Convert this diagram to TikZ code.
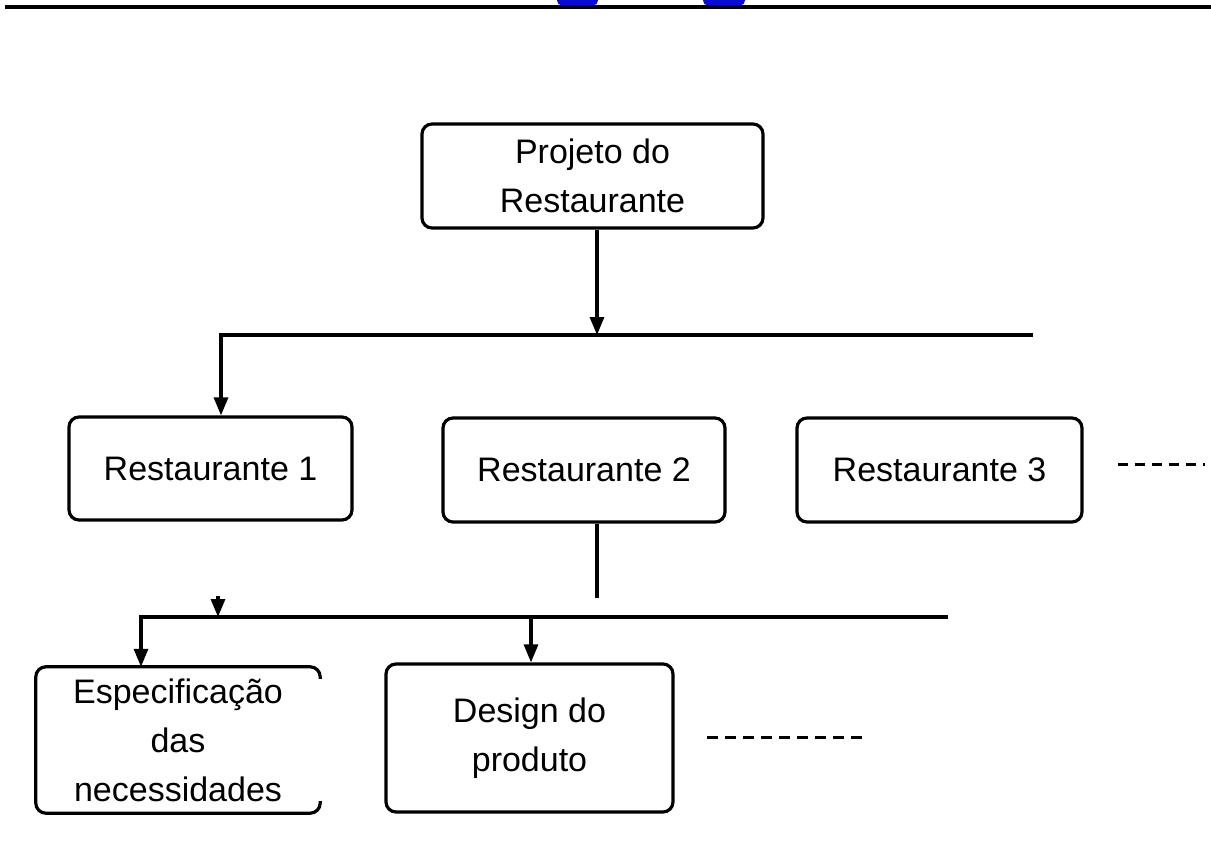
\documentclass[tikz,border=0pt]{standalone}
\usepackage{fontspec}
\setmainfont{Liberation Sans}
\usetikzlibrary{arrows.meta}
\definecolor{topblue}{RGB}{10,10,210}
\begin{document}
\begin{tikzpicture}[x=1pt,y=-1pt,
  boxtext/.style={align=center, inner sep=0pt, font=\fontsize{34}{49}\selectfont},
  box/.style={boxtext, draw, line width=3.2pt, rounded corners=10pt},
  conn/.style={line width=3.2pt},
  arr/.style={conn, -{Triangle[width=14pt,length=18pt]}},
  dashline/.style={line width=3pt, dash pattern=on 10pt off 7pt},
]
\useasboundingbox (0,0) rectangle (1211,846);
% top rule with blue fragments
\fill[topblue, rounded corners=5pt] (557,-8) rectangle (598,5.5);
\fill[topblue, rounded corners=5pt] (703,-8) rectangle (745,5.5);
\draw[line width=4pt] (5,6.5) -- (1211,6.5);

% nodes
\node[box, minimum width=341pt, minimum height=104pt] (proj) at (592.5,176) {Projeto do\\Restaurante};
\node[box, minimum width=283pt, minimum height=103pt] (r1) at (210.5,468.5) {Restaurante 1};
\node[box, minimum width=282pt, minimum height=104pt] (r2) at (584,470) {Restaurante 2};
\node[box, minimum width=285pt, minimum height=104pt] (r3) at (939.5,470) {Restaurante 3};
\node[boxtext, minimum width=284pt, minimum height=146pt] (spec) at (178,740) {Especificação\\das\\necessidades};
\node[box, minimum width=287pt, minimum height=148pt] (des) at (529.5,738) {Design do\\produto};
% outline of spec box (right side open)
\draw[line width=3.2pt, rounded corners=10pt]
  ([yshift=-12pt]spec.north east) -- (spec.north east) -- (spec.north west)
  -- (spec.south west) -- (spec.south east) -- ([yshift=12pt]spec.south east);

% coordinates
\coordinate (b1) at (597,335);
\coordinate (bL) at (221,335);
\coordinate (bR) at (1033,335);
\coordinate (c2) at (597,598);
\coordinate (cL) at (141,617);
\coordinate (cR) at (948,617);
\coordinate (cM) at (531,617);
\coordinate (cA) at (218,596);
\coordinate (d1) at (1118,464);
\coordinate (d2) at (1205,464);
\coordinate (d3) at (707,737);
\coordinate (d4) at (866,737);

% connectors
\draw[arr] (proj.south -| b1) -- (b1);
\draw[arr] (bR) -- (bL) -- (bL |- r1.north);
\draw[conn] (r2.south -| c2) -- (c2);
\draw[arr] (cR) -- (cL) -- (cL |- spec.north);
\draw[arr] (cM) -- (cM |- des.north);
\draw[arr] (cA) -- (cA |- cL);

% dashed continuation marks
\draw[dashline] (d1) -- (d2);
\draw[dashline, dash pattern=on 11pt off 7pt] (d3) -- (d4);
\end{tikzpicture}
\end{document}
